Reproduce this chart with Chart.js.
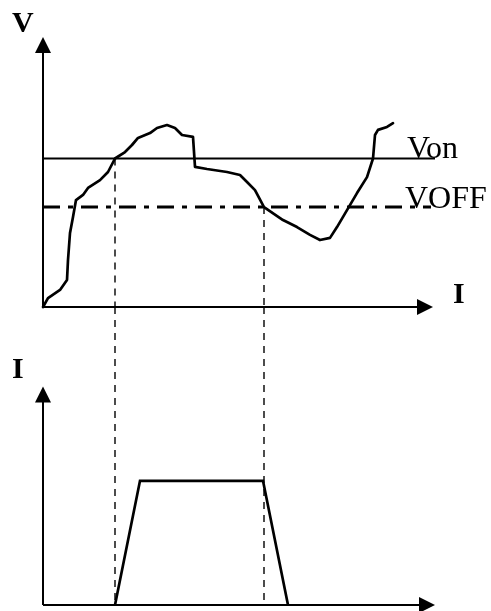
<!DOCTYPE html>
<html>
<head>
<meta charset="utf-8">
<title>V / I</title>
<script src="https://cdn.jsdelivr.net/npm/chart.js@4/dist/chart.umd.min.js"></script>
<style>
  html, body { margin: 0; padding: 0; background: #fff; }
  canvas { display: block; }
</style>
</head>
<body>
<canvas id="myChart" width="491" height="611"></canvas>
<script>
const ctx = document.getElementById('myChart');

// voltage curve V(I)
const curveX = [0, 1.25, 4.25, 6, 6.25, 6.75, 7.5, 8.25, 10, 11.25, 14.25, 16.25, 18, 20.5, 22.25, 23.75,
  26.75, 28.5, 31, 33, 34.75, 37.5, 38, 41, 46, 49.25, 51, 53, 55.25, 60, 63.5, 66.75, 69.25,
  71.75, 73.5, 76, 78.5, 81, 82.5, 83, 83.75, 86, 87.5];
const curveV = [0, 0.33, 0.63, 1.0, 1.74, 2.74, 3.33, 3.96, 4.15, 4.41, 4.7, 5.0, 5.5, 5.74, 6.0, 6.26,
  6.44, 6.63, 6.74, 6.63, 6.37, 6.3, 5.19, 5.11, 5.0, 4.89, 4.63, 4.33, 3.7, 3.22, 2.96, 2.67, 2.48,
  2.56, 2.96, 3.59, 4.22, 4.81, 5.5, 6.37, 6.56, 6.67, 6.81];

// thresholds
const vOn = 5.5;
const vOff = 3.7;
const vOnEnd = 98;
const vOffEnd = 97;

// switching points (where the curve crosses Von / VOFF)
const switchX = [18, 55.25];
const switchV = [vOn, vOff];

// current pulse I
const pulseX = [18, 24.25, 55, 61.25];
const pulseI = [0, 5, 5, 0];

// axis extents
const vMax = 10;
const iMax = 12;
const iArrowTop = 8.8;
const xArrowTop = 97.5;
const xArrowBottom = 98;

const pts = (xs, ys) => xs.map((x, i) => ({x: x, y: ys[i]}));

function line(data, axis, opts) {
  return Object.assign({
    data: data,
    yAxisID: axis,
    showLine: true,
    borderColor: '#000',
    borderWidth: 1,
    pointRadius: 0,
    tension: 0,
    fill: false,
    clip: false
  }, opts);
}

const datasets = [
  line(pts(curveX, curveV), 'yV', {borderWidth: 2.7, borderJoinStyle: 'round', borderCapStyle: 'round'}),
  line([{x: 0, y: vOn}, {x: vOnEnd, y: vOn}], 'yV', {borderWidth: 2}),
  line([{x: 0, y: vOff}, {x: vOffEnd, y: vOff}], 'yV', {borderWidth: 3, borderDash: [17, 8, 5, 8]}),
  line(pts(pulseX, pulseI), 'yI', {borderWidth: 2.7})
];
switchX.forEach((x, i) => {
  datasets.push(line([{x: x, y: switchV[i]}, {x: x, y: 0}], 'yV', {borderWidth: 1.4, borderDash: [7, 6]}));
  datasets.push(line([{x: x, y: iMax}, {x: x, y: 0}], 'yI', {borderWidth: 1.4, borderDash: [7, 6]}));
});

function arrow(c, x, y, dir) {
  // dir: 'up' or 'right', (x, y) is the tip
  c.beginPath();
  if (dir === 'up') {
    c.moveTo(x, y);
    c.lineTo(x - 8, y + 16);
    c.lineTo(x + 8, y + 16);
  } else {
    c.moveTo(x, y);
    c.lineTo(x - 16, y - 8);
    c.lineTo(x - 16, y + 8);
  }
  c.closePath();
  c.fill();
}

const axesPlugin = {
  id: 'axes',
  afterDatasetsDraw(chart) {
    const c = chart.ctx;
    const sx = chart.scales.x, sv = chart.scales.yV, si = chart.scales.yI;
    const x0 = sx.getPixelForValue(0);
    c.save();
    c.strokeStyle = '#000';
    c.fillStyle = '#000';
    c.lineWidth = 2;

    // V axis and upper I axis
    const v0 = sv.getPixelForValue(0), vTop = sv.getPixelForValue(vMax);
    const xTopEnd = sx.getPixelForValue(xArrowTop);
    c.beginPath();
    c.moveTo(x0, v0); c.lineTo(x0, vTop + 10);
    c.moveTo(x0, v0); c.lineTo(xTopEnd - 10, v0);
    c.stroke();
    arrow(c, x0, vTop, 'up');
    arrow(c, xTopEnd, v0, 'right');

    // lower I plot axes
    const i0 = si.getPixelForValue(0), iTop = si.getPixelForValue(iArrowTop);
    const xBotEnd = sx.getPixelForValue(xArrowBottom);
    c.beginPath();
    c.moveTo(x0, i0); c.lineTo(x0, iTop + 10);
    c.moveTo(x0, i0); c.lineTo(xBotEnd - 10, i0);
    c.stroke();
    arrow(c, x0, iTop, 'up');
    arrow(c, xBotEnd, i0, 'right');

    // labels
    c.textAlign = 'left';
    c.textBaseline = 'alphabetic';
    c.font = 'bold 30px "Liberation Serif", "DejaVu Serif", serif';
    c.fillText('V', x0 - 31, vTop - 5);
    c.fillText('I', xTopEnd + 20, v0 - 4);
    c.fillText('I', x0 - 31, iTop - 8);

    c.font = '32px "Liberation Serif", "DejaVu Serif", serif';
    c.fillText('Von', sx.getPixelForValue(vOnEnd) - 28, sv.getPixelForValue(vOn) - 1);
    c.fillText('VOFF', sx.getPixelForValue(vOffEnd) - 26, sv.getPixelForValue(vOff) + 0.5);
    c.restore();
  }
};

new Chart(ctx, {
  type: 'scatter',
  data: { datasets: datasets },
  options: {
    responsive: false,
    animation: false,
    events: [],
    layout: { padding: { left: 43, right: 48, top: 37, bottom: 6 } },
    plugins: {
      legend: { display: false },
      tooltip: { enabled: false }
    },
    scales: {
      x: { type: 'linear', min: 0, max: 100, display: false },
      yI: { type: 'linear', position: 'left', stack: 'plots', stackWeight: 298, min: 0, max: iMax, display: false },
      yV: { type: 'linear', position: 'left', stack: 'plots', stackWeight: 270, min: 0, max: vMax, display: false }
    }
  },
  plugins: [axesPlugin]
});
</script>
</body>
</html>
